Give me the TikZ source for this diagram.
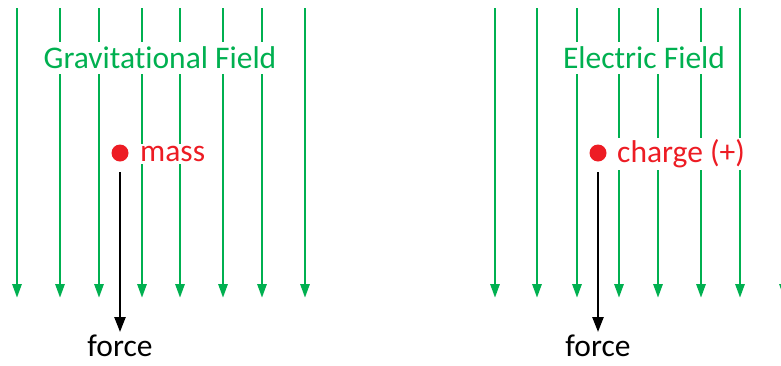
\documentclass[tikz,border=0pt]{standalone}
\usepackage{fontspec}
\setmainfont{Carlito}[Ligatures={NoCommon,NoRare}]
\usetikzlibrary{arrows.meta}
\definecolor{fgreen}{RGB}{0,176,80}
\definecolor{fred}{RGB}{237,28,36}
\tikzset{
  gline/.style={draw=fgreen, line width=2.8pt, -{Triangle[width=9pt,length=14pt]}},
  farrow/.style={draw=black, line width=2.4pt, -{Triangle[width=11pt,length=15pt]}},
  title/.style={fill=white, text=fgreen, font=\fontsize{31.5}{36}\selectfont, inner xsep=3pt, inner ysep=5pt},
  lab/.style={fill=white, text=fred, font=\fontsize{31.5}{36}\selectfont, inner xsep=3pt, inner ysep=2pt, anchor=west},
  dot/.style={circle, fill=fred, minimum size=17pt, inner sep=0pt},
  ftext/.style={text=black, font=\fontsize{31.5}{36}\selectfont, inner sep=0pt, anchor=base}
}
\begin{document}
\begin{tikzpicture}[x=1pt,y=-1pt]
\useasboundingbox (0,0) rectangle (781,365);
\begin{scope}
\clip (0,0) rectangle (781,365);
\foreach \x in {17,60,99,142,180,223,262,305,495,537,577,619,658,701,740,784}
  \draw[gline] (\x,8) -- (\x,298);
\end{scope}
\node[title] (gf) at (160,58) {Gravitational Field};
\node[title] (ef) at (644,58) {Electric Field};
\node[dot] (m) at (120,153) {};
\node[lab] (ml) at (137,154) {mass};
\node[dot] (q) at (598,153) {};
\node[lab] (ql) at (614,154) {charge (+)};
\coordinate (ms) at (120,172);
\coordinate (qs) at (598,172);
\node[ftext] (f1) at (120,356) {force};
\node[ftext] (f2) at (598,356) {force};
\draw[farrow] (ms) -- (f1.north |- 0,332);
\draw[farrow] (qs) -- (f2.north |- 0,332);
\end{tikzpicture}
\end{document}
